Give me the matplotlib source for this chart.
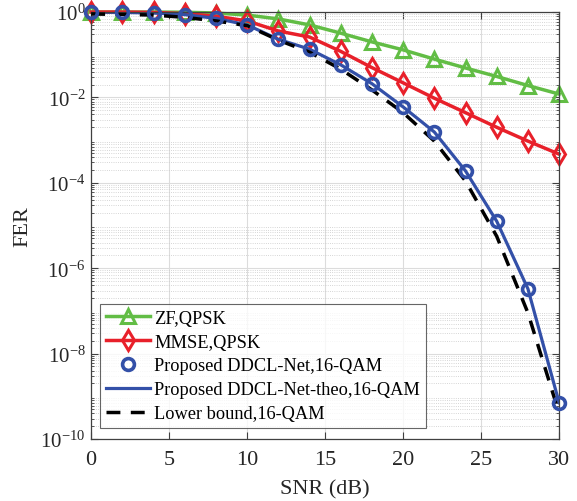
"""FER vs SNR curves (ZF / MMSE / proposed DDCL-Net), MATLAB-like style."""
import matplotlib
matplotlib.use("Agg")
import matplotlib.pyplot as plt
from matplotlib.ticker import LogLocator, NullFormatter, MultipleLocator

plt.rcParams["font.family"] = ["Liberation Serif", "DejaVu Serif"]
plt.rcParams["mathtext.fontset"] = "custom"
plt.rcParams["mathtext.rm"] = "Liberation Serif"
plt.rcParams["mathtext.it"] = "Liberation Serif:italic"

snr = [0, 2, 4, 6, 8, 10, 12, 14, 16, 18, 20, 22, 24, 26, 28, 30]

fer_zf = [1.0, 1.0, 1.0, 0.99, 0.95, 0.85, 0.69, 0.50, 0.32, 0.20,
          0.13, 0.079, 0.049, 0.031, 0.019, 0.012]
fer_mmse = [1.0, 1.0, 0.98, 0.92, 0.80, 0.62, 0.36, 0.26, 0.12, 0.05,
            0.022, 9.6e-3, 4.4e-3, 2.0e-3, 9.5e-4, 4.7e-4]
fer_prop = [1.0, 0.98, 0.95, 0.87, 0.71, 0.50, 0.23, 0.135, 0.058, 0.021,
            6.0e-3, 1.55e-3, 1.9e-4, 1.26e-5, 3.3e-7, 7.1e-10]
fer_theo = fer_prop
fer_lb = [0.90, 0.88, 0.85, 0.75, 0.62, 0.48, 0.22, 0.115, 0.046, 0.015,
          4.4e-3, 9.5e-4, 1.1e-4, 5.6e-6, 9e-8, 4e-10]

GREEN = "#62bd45"
RED = "#e8202a"
BLUE = "#3350a8"

fig = plt.figure(figsize=(5.77, 5.02), dpi=100)
ax = fig.add_axes([0.158, 0.1235, 0.811, 0.8505])

ax.plot(snr, fer_zf, color=GREEN, lw=2.5, marker="^", ms=9.5, mfc="none",
        mew=2.2, label="ZF,QPSK", clip_on=False)
ax.plot(snr, fer_mmse, color=RED, lw=2.5, marker="d", ms=10.5, mfc="none",
        mew=2.2, label="MMSE,QPSK", clip_on=False)
ax.plot(snr, fer_prop, ls="none", color=BLUE, marker="o", ms=8.5, mfc="none",
        mew=2.6, label="Proposed DDCL-Net,16-QAM", zorder=4, clip_on=False)
ax.plot(snr, fer_theo, color=BLUE, lw=2.3, label="Proposed DDCL-Net-theo,16-QAM")
ax.plot(snr, fer_lb, color="black", lw=2.5, ls=(0, (4, 3)),
        label="Lower bound,16-QAM", zorder=3)

ax.set_yscale("log")
ax.set_xlim(0, 30)
ax.set_ylim(1e-10, 1)
ax.xaxis.set_major_locator(MultipleLocator(5))
ax.yaxis.set_minor_locator(LogLocator(base=10, subs=range(2, 10), numticks=20))
ax.yaxis.set_minor_formatter(NullFormatter())
ax.set_yticks([10.0 ** k for k in range(-10, 1, 2)])
ax.set_yticklabels([rf"$10^{{{k}}}$" for k in range(-10, 1, 2)])

ax.grid(True, which="major", color="#dcdcdc", lw=0.8)
ax.grid(True, which="minor", axis="y", color="#c8c8c8", lw=0.6, ls=":")
ax.set_axisbelow(True)
ax.tick_params(which="both", direction="in", top=True, right=True,
               colors="#404040", labelcolor="#262626")
ax.tick_params(axis="x", labelsize=16, pad=8)
ax.tick_params(axis="y", labelsize=15, pad=4)
ax.tick_params(which="major", length=5)
ax.tick_params(which="minor", length=2.5)
for s in ax.spines.values():
    s.set_color("#404040")
    s.set_linewidth(0.9)

ax.set_xlabel("SNR (dB)", fontsize=16, color="#262626", labelpad=7)
ax.set_ylabel("FER", fontsize=16, color="#262626", labelpad=6)

leg = ax.legend(loc="lower left", bbox_to_anchor=(0.019, 0.026), fontsize=13.2,
                frameon=True, fancybox=False, edgecolor="#404040",
                handlelength=2.45, handletextpad=0.2, borderpad=0.3,
                labelspacing=0.38, borderaxespad=0)
leg.get_frame().set_linewidth(0.8)

fig.savefig("out.png", dpi=100)
